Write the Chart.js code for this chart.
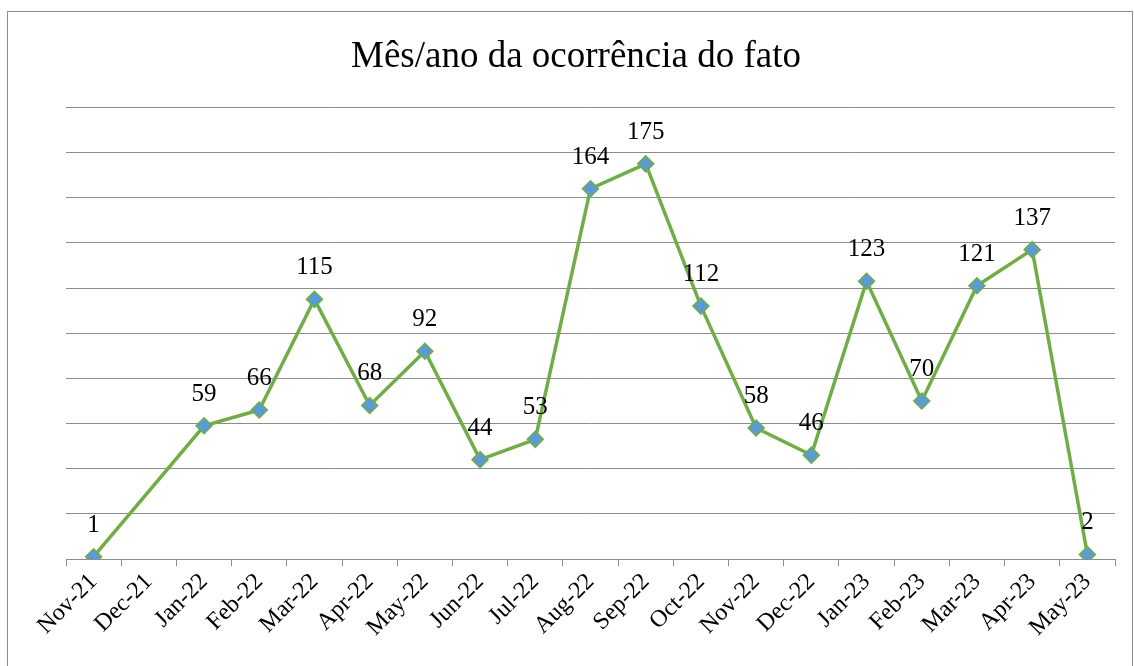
<!DOCTYPE html>
<html>
<head>
<meta charset="utf-8">
<script src="https://cdn.jsdelivr.net/npm/chart.js@4.4.1/dist/chart.umd.min.js"></script>
<style>
html,body{margin:0;padding:0;background:#fff;}
#box{position:absolute;left:7px;top:11px;width:1124px;height:660px;border:1px solid #8c8c8c;background:#fff;}
#c{display:block;}
</style>
</head>
<body>
<div id="box"><canvas id="c" width="1124" height="654"></canvas></div>
<script>
// valores
const meses=['Nov-21','Dec-21','Jan-22','Feb-22','Mar-22','Apr-22','May-22','Jun-22','Jul-22','Aug-22','Sep-22','Oct-22','Nov-22','Dec-22','Jan-23','Feb-23','Mar-23','Apr-23','May-23'];
const ocorrencias=[1,null,59,66,115,68,92,44,53,164,175,112,58,46,123,70,121,137,2];
const titulo='Mês/ano da ocorrência do fato';
const SERIF='"Liberation Serif","Times New Roman",serif';

// rótulos de valor acima dos pontos (sem plugin externo)
const rotulos={id:'rotulos',afterDatasetsDraw(ch){
  const ctx=ch.ctx,meta=ch.getDatasetMeta(0),d=ch.data.datasets[0].data;
  ctx.save();ctx.font='25px '+SERIF;ctx.fillStyle='#000';ctx.textAlign='center';ctx.textBaseline='alphabetic';
  meta.data.forEach((p,i)=>{if(d[i]==null)return;ctx.fillText(String(d[i]),p.x,p.y-25);});
  ctx.restore();
}};

new Chart(document.getElementById('c'),{type:'line',
  data:{labels:meses,datasets:[{label:titulo,data:ocorrencias,spanGaps:true,tension:0,
    borderColor:'#70AD47',borderWidth:3.5,pointStyle:'rectRot',pointRadius:8,pointHoverRadius:8,
    pointBackgroundColor:'#5B9BD5',pointBorderColor:'#70AD47',pointBorderWidth:1.5}]},
  options:{responsive:false,animation:false,
    layout:{padding:{left:29,right:17,top:0,bottom:0}},
    plugins:{legend:{display:false},tooltip:{enabled:false},
      title:{display:true,text:titulo,color:'#000',font:{family:SERIF,size:37,weight:'normal'},padding:{top:23,bottom:28}}},
    scales:{
      x:{offset:true,grid:{offset:true,drawOnChartArea:false,drawTicks:true,tickLength:7,color:'#8c8c8c'},
        border:{display:true,color:'#8c8c8c'},
        ticks:{autoSkip:false,minRotation:45,maxRotation:45,color:'#000',padding:2,font:{family:SERIF,size:24}},
        afterFit(s){s.height=107;}},
      y:{min:0,max:200,ticks:{display:false,stepSize:20},grid:{color:'#8c8c8c',drawTicks:false},
        border:{display:false},afterFit(s){s.width=29;}}
    }},
  plugins:[rotulos]});
</script>
</body>
</html>
